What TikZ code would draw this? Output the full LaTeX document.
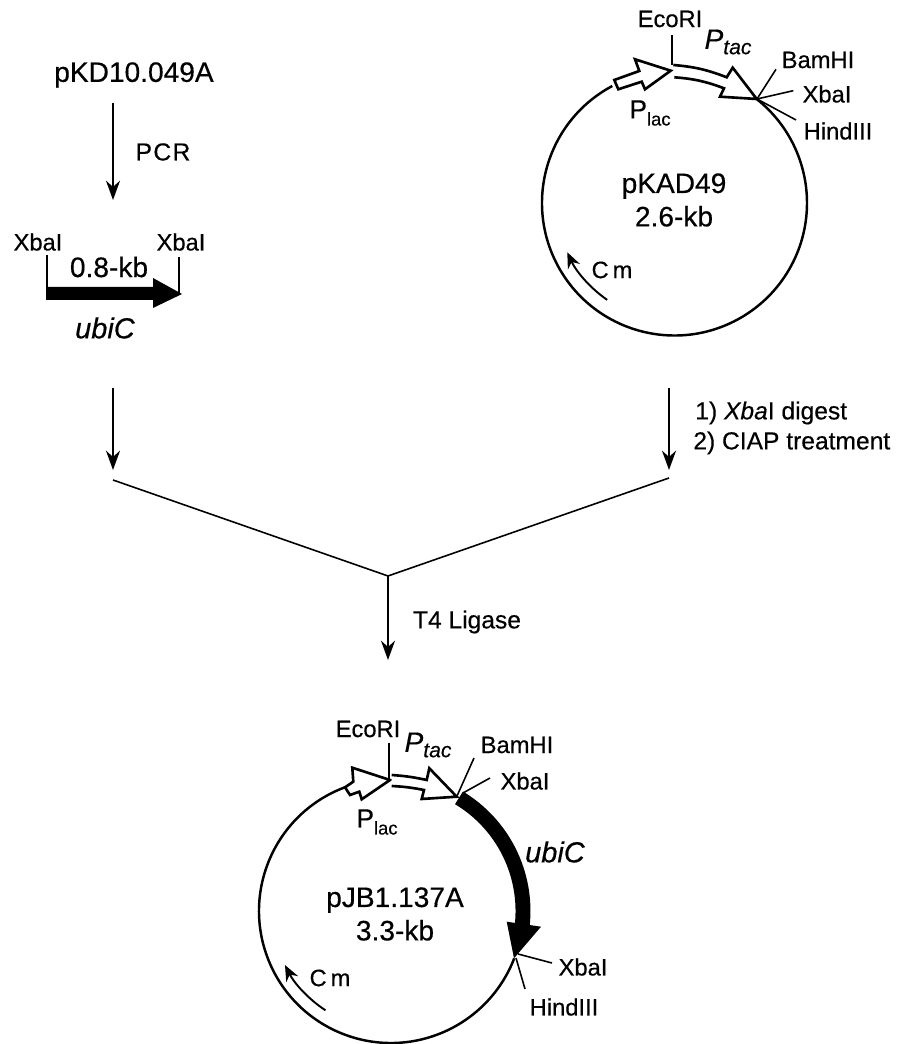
\documentclass[tikz,border=0pt]{standalone}
\usepackage{fontspec}
\setmainfont{Liberation Sans}[FakeBold=0.4]
\usetikzlibrary{arrows.meta}
\newcommand{\subtac}{\raisebox{-3pt}{\fontsize{12}{14}\selectfont tac}}
\newcommand{\sublac}{\raisebox{-4pt}{\fontsize{10.5}{12}\selectfont lac}}
\tikzset{
  site/.style={font=\fontsize{13.5}{16}\selectfont, inner sep=0pt},
  plasmid/.style={font=\fontsize{16}{19}\selectfont, align=center, inner sep=0pt},
  gene/.style={font=\fontsize{16.5}{18}\selectfont\itshape, inner sep=0pt},
  promname/.style={font=\fontsize{16}{18}\selectfont\itshape, inner sep=0pt},
  steplabel/.style={font=\fontsize{14}{16}\selectfont, inner sep=0pt},
  ring/.style={line width=1.4pt},
  flow/.style={line width=1.1pt, -{Stealth[length=11pt, width=8pt]}},
  marker/.style={line width=1.1pt, -{Stealth[length=9pt, width=7.5pt]}},
  sitecut/.style={line width=0.9pt},
  promoter/.style={line width=1.5pt, fill=white, line join=miter}
}
\begin{document}
\begin{tikzpicture}[x=0.02cm,y=0.02cm]
\useasboundingbox (0,0) rectangle (896,1044);
% left column
\node[plasmid] (source) at (134,969) {pKD10.049A};
\node[steplabel] (pcr) at (163,892) {P\kern0.8pt C\kern0.8pt R};
\coordinate (pcrtop) at (113,941);
\coordinate (pcrend) at (113,844);
\draw[flow] (pcrtop)--(pcrend);
\node[site] (xbaL) at (38,802) {XbaI};
\node[site] (xbaR) at (181,802) {XbaI};
\node[plasmid] (size) at (109,777) {0.8-kb};
\node[gene] (ubiA) at (105,716) {ubiC};
\fill (46,757)--(153,757)--(153,766)--(182,750)--(153,736)--(153,744)--(46,744)--cycle;
\coordinate (cutL) at (47,789);
\coordinate (geneL) at (47,757);
\coordinate (cutR) at (179,787);
\coordinate (geneR) at (179,751);
\draw[sitecut] (cutL)--(geneL);
\draw[sitecut] (cutR)--(geneR);
% pKAD49
\coordinate (one) at (674.5,841);
\draw[ring] (one) ++(118:132.5) arc[start angle=118, end angle=411.8, radius=132.5];
\draw[promoter] (614.3,964)--(639.3,973)--(635,984.7)--(670.7,973.3)--(645,954.7)--(641.7,962.3)--(618.3,954.7)--cycle;
\draw[promoter] (673.3,979) to[bend left=8] (726.7,966.7)--(732.7,976.3)--(756.7,945)--(720,947.3)--(724,955.7) to[bend right=8] (674.3,966.7);
\node[plasmid] (kad) at (674,844) {pKAD49\\2.6-kb};
\node[site] (eco) at (670,1025) {EcoRI};
\node[promname] (ptac) at (728,1002) {P\subtac};
\node[site, font=\fontsize{15}{16}\selectfont] (plac) at (650,931) {P\sublac};
\node[site] (bam) at (818,984) {BamHI};
\node[site] (xba) at (827,950) {XbaI};
\node[site] (hind) at (838,913) {HindIII};
\coordinate (ecoend) at (671.7,979);
\coordinate (cut) at (757,945);
\coordinate (ecotop) at (671.7,1009);
\coordinate (bamend) at (776,974.7);
\coordinate (xbaend) at (793.3,953.3);
\coordinate (hindend) at (796,924);
\draw[sitecut] (ecotop)--(ecoend);
\draw[sitecut] (cut)--(bamend);
\draw[sitecut] (cut)--(xbaend);
\draw[sitecut] (cut)--(hindend);
\node[site] (cm) at (612,774) {C\,m};
\draw[marker] (one) ++(235.2:118) arc[start angle=235.2, end angle=204.7, radius=118];
% digest and ligation
\coordinate (lefttop) at (113,656);
\coordinate (leftend) at (113,574);
\coordinate (righttop) at (669,656);
\coordinate (rightend) at (669,574);
\draw[flow] (lefttop)--(leftend);
\draw[flow] (righttop)--(rightend);
\node[steplabel, anchor=west] (digest) at (695,631) {1) \textit{Xba}I digest};
\node[steplabel, anchor=west] (ciap) at (693,601) {2) CIAP treatment};
\coordinate (mergeL) at (113,564);
\coordinate (mergeR) at (669,566);
\coordinate (merge) at (388,468);
\coordinate (ligend) at (388,384);
\draw[line width=0.9pt] (mergeL)--(merge)--(mergeR);
\draw[flow] (merge)--(ligend);
\node[steplabel] (ligase) at (467,422) {T4 Ligase};
% pJB1.137A
\coordinate (two) at (391,133);
\draw[ring] (two) ++(110.4:132) arc[start angle=110.4, end angle=339, radius=132];
\draw[line width=8.5pt] (two) ++(59:132) arc[start angle=59, end angle=-6, radius=132];
\fill (506.7,122.3)--(541,117.3)--(514,85.7)--cycle;
\draw[promoter] (345,256.7)--(353.3,262.3)--(352.3,276.3)--(390,264)--(361.7,244.7)--(359.3,252.3)--(350,249)--cycle;
\draw[promoter] (391.7,269) to[bend left=4] (426.7,264)--(429.3,275.7)--(456.7,247.3)--(421.7,245)--(424,254) to[bend right=4] (391.7,258);
\node[plasmid] (jb) at (395,130) {pJB1.137A\\3.3-kb};
\node[site] (eco2) at (368,315) {EcoRI};
\node[promname] (ptac2) at (428,299) {P\subtac};
\node[site, font=\fontsize{15}{16}\selectfont] (plac2) at (377,222) {P\sublac};
\node[site] (bam2) at (517,299) {BamHI};
\node[site] (xba2) at (525,263) {XbaI};
\node[gene] (ubiB) at (555,192) {ubiC};
\node[site] (xba3) at (583,77) {XbaI};
\node[site] (hind2) at (564,37) {HindIII};
\coordinate (eco2top) at (389,301);
\coordinate (eco2end) at (389,265);
\coordinate (bam2a) at (456.7,247.3);
\coordinate (bam2b) at (474,286);
\coordinate (xba2a) at (463,251);
\coordinate (xba2b) at (490,266);
\coordinate (xba3a) at (518,90);
\coordinate (xba3b) at (552,81);
\coordinate (hind2a) at (516,86);
\coordinate (hind2b) at (525,55);
\draw[sitecut] (eco2top)--(eco2end);
\draw[sitecut] (bam2a)--(bam2b);
\draw[sitecut] (xba2a)--(xba2b);
\draw[sitecut] (xba3a)--(xba3b);
\draw[sitecut] (hind2a)--(hind2b);
\node[site] (cm2) at (330,66) {C\,m};
\draw[marker] (two) ++(236.6:119) arc[start angle=236.6, end angle=207, radius=119];
\end{tikzpicture}
\end{document}
